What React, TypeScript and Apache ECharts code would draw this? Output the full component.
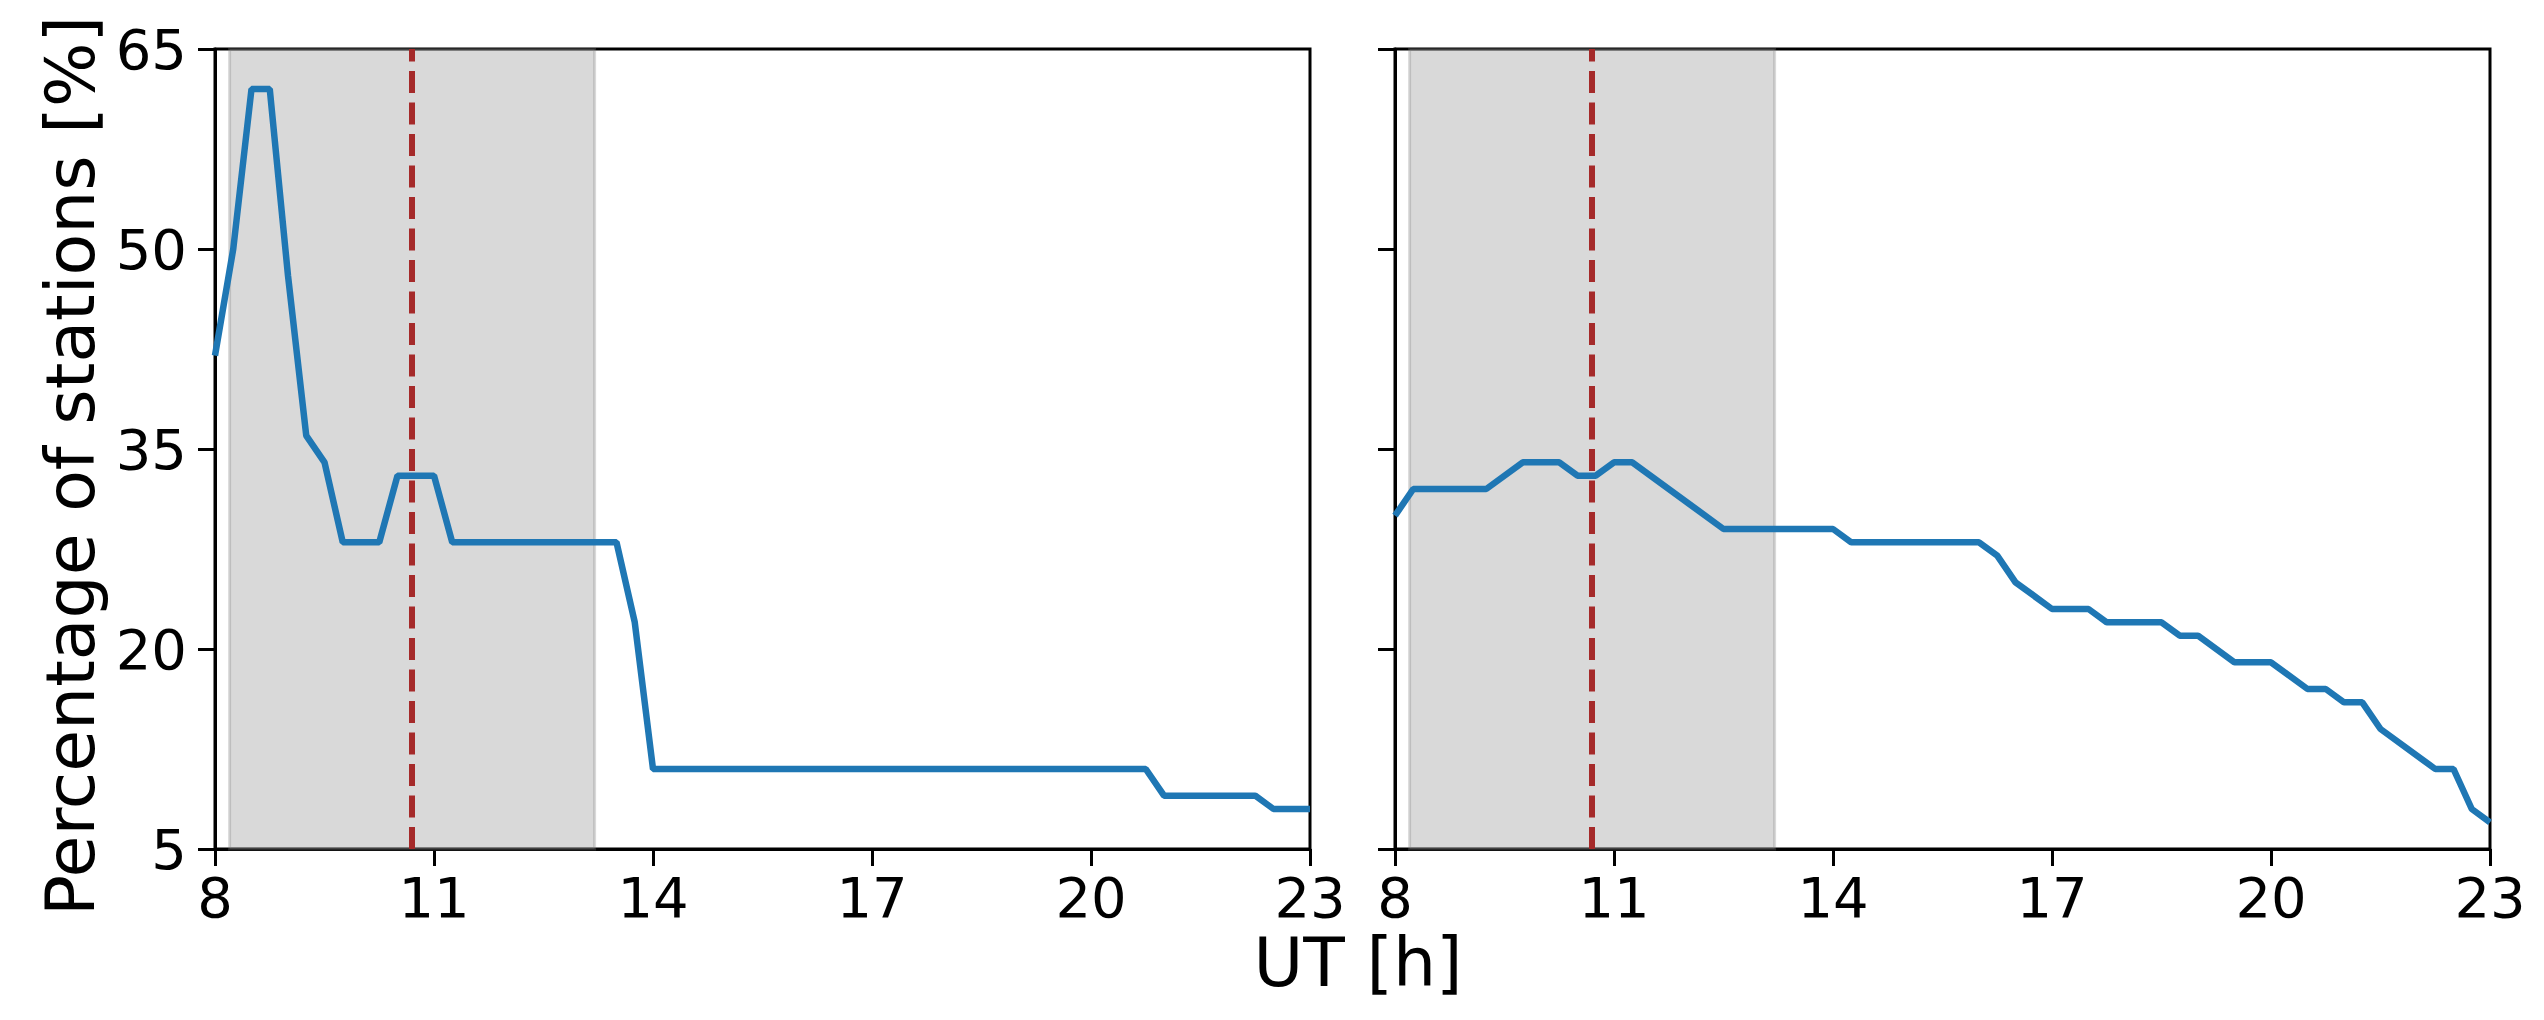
import React, { useEffect, useRef } from "react";
import * as echarts from "echarts";

// Left panel
const leftHours = [8, 8.25, 8.5, 8.75, 9, 9.25, 9.5, 9.75, 10.25, 10.5, 11, 11.25, 13.5, 13.75, 14, 20.75, 21, 22.25, 22.5, 23];
const leftValues = [42, 50, 62, 62, 48, 36, 34, 28, 28, 33, 33, 28, 28, 22, 11, 11, 9, 9, 8, 8];

// Right panel
const rightHours = [8, 8.25, 9.25, 9.75, 10.25, 10.5, 10.75, 11, 11.25, 12.5, 14, 14.25, 16, 16.25, 16.5, 17, 17.5, 17.75, 18.5, 18.75, 19, 19.5, 20, 20.5, 20.75, 21, 21.25, 21.5, 22.25, 22.5, 22.75, 23];
const rightValues = [30, 32, 32, 34, 34, 33, 33, 34, 34, 29, 29, 28, 28, 27, 25, 23, 23, 22, 22, 21, 21, 19, 19, 17, 17, 16, 16, 14, 11, 11, 8, 7];

const xTicks = [8, 11, 14, 17, 20, 23];
const yTicks = [5, 20, 35, 50, 65];
const shadeStart = 8.2;
const shadeEnd = 13.2;
const eventHour = 10.7;

const yLabel = "Percentage of stations [%]";
const xLabel = "UT [h]";

const FONT = "DejaVu Sans";

export default function App() {
  const ref = useRef<HTMLDivElement>(null);
  useEffect(() => {
    if (!ref.current) return;
    const chart = echarts.init(ref.current, undefined, { renderer: "svg" });

    const mkX = (gridIndex: number) => ({
      type: "value",
      gridIndex,
      min: xTicks[0],
      max: xTicks[xTicks.length - 1],
      interval: xTicks[1] - xTicks[0],
      axisLine: { show: true, lineStyle: { color: "#000", width: 3 } },
      axisTick: { show: true, inside: false, length: 17, lineStyle: { color: "#000", width: 3 } },
      axisLabel: { show: true, margin: 20, color: "#000", fontSize: 56, fontFamily: FONT },
      splitLine: { show: false },
    });
    const mkY = (gridIndex: number, labels: boolean) => ({
      type: "value",
      gridIndex,
      min: yTicks[0],
      max: yTicks[yTicks.length - 1],
      interval: yTicks[1] - yTicks[0],
      axisLine: { show: true, lineStyle: { color: "#000", width: 3 } },
      axisTick: { show: true, inside: false, length: 17, lineStyle: { color: "#000", width: 3 } },
      axisLabel: { show: labels, margin: 28, color: "#000", fontSize: 56, fontFamily: FONT },
      splitLine: { show: false },
    });

    const mkSeries = (idx: number, hours: number[], values: number[]) => ({
      type: "line",
      xAxisIndex: idx,
      yAxisIndex: idx,
      data: hours.map((h, i) => [h, values[i]]),
      symbol: "none",
      lineStyle: { color: "#1f77b4", width: 6.5 },
      z: 5,
      markArea: {
        silent: true,
        itemStyle: {
          color: "rgba(128,128,128,0.3)",
          borderColor: "rgba(128,128,128,0.3)",
          borderWidth: 3,
        },
        data: [[{ xAxis: shadeStart }, { xAxis: shadeEnd }]],
      },
      markLine: {
        silent: true,
        symbol: "none",
        label: { show: false },
        lineStyle: { color: "#a52a2a", width: 6, type: [22, 9.5] },
        data: [{ xAxis: eventHour }],
      },
    });

    chart.setOption({
      animation: false,
      backgroundColor: "#fff",
      grid: [
        { left: 215, top: 49, width: 1095, height: 800, show: true, borderColor: "#000", borderWidth: 3, backgroundColor: "transparent" },
        { left: 1395, top: 49, width: 1095, height: 800, show: true, borderColor: "#000", borderWidth: 3, backgroundColor: "transparent" },
      ],
      xAxis: [mkX(0), mkX(1)],
      yAxis: [mkY(0, true), mkY(1, false)],
      series: [mkSeries(0, leftHours, leftValues), mkSeries(1, rightHours, rightValues)],
      graphic: [
        {
          type: "text",
          x: 70,
          y: 466,
          rotation: Math.PI / 2,
          style: { text: yLabel, font: `68px ${FONT}`, fill: "#000", align: "center", verticalAlign: "middle" },
        },
        {
          type: "text",
          x: 1358,
          y: 962,
          style: { text: xLabel, font: `68px ${FONT}`, fill: "#000", align: "center", verticalAlign: "middle" },
        },
      ],
    });
    return () => chart.dispose();
  }, []);
  return <div ref={ref} style={{ position: "fixed", left: 0, top: 0, width: 2544, height: 1020 }} />;
}
